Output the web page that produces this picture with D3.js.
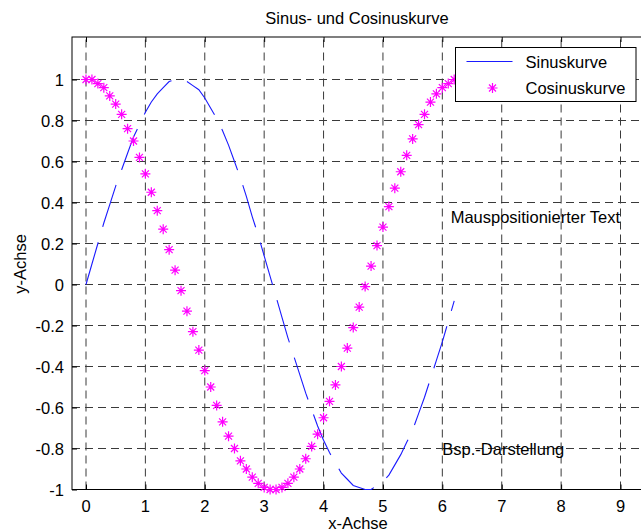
<!DOCTYPE html>
<html>
<head>
<meta charset="utf-8">
<script src="https://cdn.jsdelivr.net/npm/d3@7"></script>
<style>
  body { margin: 0; background: #fff; }
  text { font-family: "Liberation Sans", Arial, sans-serif; fill: #000; }
</style>
</head>
<body>
<div id="chart"></div>
<script>
const xValues = [0, 0.1, 0.2, 0.3, 0.4, 0.5, 0.6, 0.7, 0.8, 0.9,
                 1.0, 1.1, 1.2, 1.3, 1.4, 1.5, 1.6, 1.7, 1.8, 1.9,
                 2.0, 2.1, 2.2, 2.3, 2.4, 2.5, 2.6, 2.7, 2.8, 2.9,
                 3.0, 3.1, 3.2, 3.3, 3.4, 3.5, 3.6, 3.7, 3.8, 3.9,
                 4.0, 4.1, 4.2, 4.3, 4.4, 4.5, 4.6, 4.7, 4.8, 4.9,
                 5.0, 5.1, 5.2, 5.3, 5.4, 5.5, 5.6, 5.7, 5.8, 5.9,
                 6.0, 6.1, 6.2];
const sinValues = [0.00, 0.10, 0.20, 0.30, 0.39, 0.48, 0.56, 0.64, 0.72, 0.78,
                   0.84, 0.89, 0.93, 0.96, 0.99, 1.00, 1.00, 0.99, 0.97, 0.95,
                   0.91, 0.86, 0.81, 0.75, 0.68, 0.60, 0.52, 0.43, 0.33, 0.24,
                   0.14, 0.04, -0.06, -0.16, -0.26, -0.35, -0.44, -0.53, -0.61, -0.69,
                   -0.76, -0.82, -0.87, -0.92, -0.95, -0.98, -0.99, -1.00, -1.00, -0.98,
                   -0.96, -0.93, -0.88, -0.83, -0.77, -0.71, -0.63, -0.55, -0.46, -0.37,
                   -0.28, -0.18, -0.08];
const cosValues = [1.00, 1.00, 0.98, 0.96, 0.92, 0.88, 0.83, 0.76, 0.70, 0.62,
                   0.54, 0.45, 0.36, 0.27, 0.17, 0.07, -0.03, -0.13, -0.23, -0.32,
                   -0.42, -0.50, -0.59, -0.67, -0.74, -0.80, -0.86, -0.90, -0.94, -0.97,
                   -0.99, -1.00, -1.00, -0.99, -0.97, -0.94, -0.90, -0.85, -0.79, -0.73,
                   -0.65, -0.57, -0.49, -0.40, -0.31, -0.21, -0.11, -0.01, 0.09, 0.19,
                   0.28, 0.38, 0.47, 0.55, 0.63, 0.71, 0.78, 0.83, 0.89, 0.93,
                   0.96, 0.98, 1.00];
const xTicks = [0, 1, 2, 3, 4, 5, 6, 7, 8, 9];
const yTicks = [-1, -0.8, -0.6, -0.4, -0.2, 0, 0.2, 0.4, 0.6, 0.8, 1];
const seriesNames = ["Sinuskurve", "Cosinuskurve"];
const annotations = [
    {text: "Mauspositionierter Text", x: 6.14, y: 0.33},
    {text: "Bsp.-Darstellung", x: 6.0, y: -0.8}
];

const width = 641, height = 532;
const box = {left: 72, right: 660, top: 37, bottom: 489.5};
const fontSize = 16.5;

const x = d3.scaleLinear().domain([0, 9]).range([86, 620.5]);
const y = d3.scaleLinear().domain([-1, 1]).range([489.5, 79.5]);

const svg = d3.select("#chart")
              .append("svg")
              .attr("width", width)
              .attr("height", height);

// grid
const grid = svg.append("g")
                .attr("stroke", "#3a3a3a")
                .attr("stroke-width", 1)
                .attr("stroke-dasharray", "8,5");

grid.selectAll(".vgrid")
    .data(xTicks)
    .enter()
    .append("line")
    .attr("x1", function(d) { return x(d); })
    .attr("x2", function(d) { return x(d); })
    .attr("y1", box.bottom)
    .attr("y2", box.top);

grid.selectAll(".hgrid")
    .data(yTicks)
    .enter()
    .append("line")
    .attr("x1", box.left)
    .attr("x2", box.right)
    .attr("y1", function(d) { return y(d); })
    .attr("y2", function(d) { return y(d); });

// axes with inner ticks
const xAxisBottom = d3.axisBottom(x).tickValues(xTicks).tickSize(-5).tickFormat("");
const xAxisTop = d3.axisTop(x).tickValues(xTicks).tickSize(-5).tickFormat("");
const yAxisLeft = d3.axisLeft(y).tickValues(yTicks).tickSize(-5).tickFormat("");

svg.append("g").attr("transform", "translate(0," + box.bottom + ")").call(xAxisBottom);
svg.append("g").attr("transform", "translate(0," + box.top + ")").call(xAxisTop);
svg.append("g").attr("transform", "translate(" + box.left + ",0)").call(yAxisLeft);
svg.selectAll(".domain").remove();
svg.selectAll(".tick line").attr("stroke", "#000");

svg.append("rect")
   .attr("x", box.left)
   .attr("y", box.top)
   .attr("width", box.right - box.left)
   .attr("height", box.bottom - box.top)
   .attr("fill", "none")
   .attr("stroke", "#000")
   .attr("stroke-width", 1);

// tick labels
svg.selectAll(".xlabel")
   .data(xTicks)
   .enter()
   .append("text")
   .attr("x", function(d) { return x(d); })
   .attr("y", 511.5)
   .attr("text-anchor", "middle")
   .attr("font-size", fontSize)
   .text(function(d) { return d; });

svg.selectAll(".ylabel")
   .data(yTicks)
   .enter()
   .append("text")
   .attr("x", 64)
   .attr("y", function(d) { return y(d) + 6; })
   .attr("text-anchor", "end")
   .attr("font-size", fontSize)
   .text(function(d) { return d; });

// data
const points = xValues.map(function(d, i) {
    return {x: d, s: sinValues[i], c: cosValues[i]};
});

const sinLine = d3.line()
                  .x(function(d) { return x(d.x); })
                  .y(function(d) { return y(d.s); });

svg.append("path")
   .datum(points)
   .attr("d", sinLine)
   .attr("fill", "none")
   .attr("stroke", "#1a1aff")
   .attr("stroke-width", 1.1)
   .attr("stroke-dasharray", "44,16");

const star = "M-5,0H5M0,-5V5M-3.5,-3.5L3.5,3.5M-3.5,3.5L3.5,-3.5";

svg.selectAll(".marker")
   .data(points)
   .enter()
   .append("path")
   .attr("transform", function(d) {
       return "translate(" + x(d.x) + "," + y(d.c) + ")";
   })
   .attr("d", star)
   .attr("fill", "none")
   .attr("stroke", "#ff00ff")
   .attr("stroke-width", 1.2);

// annotations
svg.selectAll(".annot")
   .data(annotations)
   .enter()
   .append("text")
   .attr("x", function(d) { return x(d.x); })
   .attr("y", function(d) { return y(d.y) + 6; })
   .attr("font-size", fontSize)
   .text(function(d) { return d.text; });

// legend
const legend = svg.append("g")
                  .attr("class", "legend")
                  .attr("transform", "translate(455.5,47.5)");

legend.append("rect")
      .attr("width", 180.5)
      .attr("height", 54)
      .attr("fill", "#fff")
      .attr("stroke", "#000")
      .attr("stroke-width", 1);

legend.append("line")
      .attr("x1", 11)
      .attr("x2", 57)
      .attr("y1", 14)
      .attr("y2", 14)
      .attr("stroke", "#1a1aff")
      .attr("stroke-width", 1.1);

legend.append("path")
      .attr("transform", "translate(37,40.5)")
      .attr("d", star)
      .attr("fill", "none")
      .attr("stroke", "#ff00ff")
      .attr("stroke-width", 1.2);

legend.selectAll(".legend-text")
      .data(seriesNames)
      .enter()
      .append("text")
      .attr("x", 70)
      .attr("y", function(d, i) { return 20.5 + i * 25.5; })
      .attr("font-size", fontSize)
      .text(function(d) { return d; });

// titles
svg.append("text")
   .attr("x", 357)
   .attr("y", 23.5)
   .attr("text-anchor", "middle")
   .attr("font-size", fontSize)
   .text("Sinus- und Cosinuskurve");

svg.append("text")
   .attr("x", 358)
   .attr("y", 529)
   .attr("text-anchor", "middle")
   .attr("font-size", fontSize)
   .text("x-Achse");

svg.append("text")
   .attr("transform", "translate(26,264) rotate(-90)")
   .attr("text-anchor", "middle")
   .attr("font-size", fontSize)
   .text("y-Achse");
</script>
</body>
</html>
